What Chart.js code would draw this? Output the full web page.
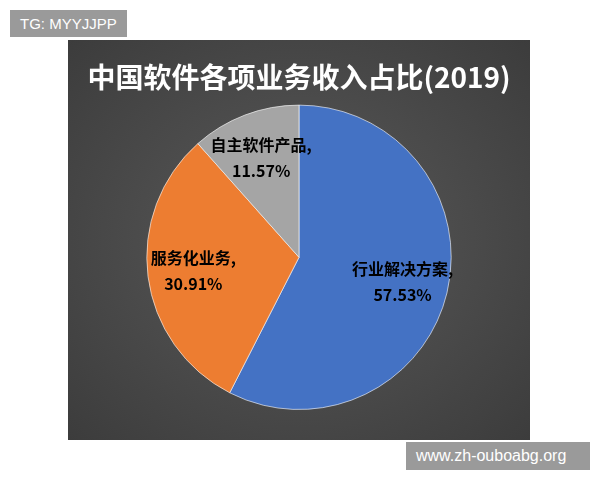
<!DOCTYPE html>
<html>
<head>
<meta charset="utf-8">
<script src="https://cdn.jsdelivr.net/npm/chart.js@4/dist/chart.umd.min.js"></script>
<style>
  body { margin: 0; background: #fff; width: 600px; height: 480px; position: relative; font-family: "Noto Sans CJK SC", sans-serif; }
  #panel { position: absolute; left: 68px; top: 40px; width: 462px; height: 400px;
    background: radial-gradient(ellipse at center, #5a5a5a 0%, #3c3c3c 100%); }
  .tag { position: absolute; background: #9a9a9a; color: #fff; font: 15px "Liberation Sans", sans-serif; padding: 5px 10px; }
</style>
</head>
<body>
<div id="panel"><canvas id="pie" width="462" height="400"></canvas></div>
<div class="tag" style="left:10px;top:10px;">TG: MYYJJPP</div>
<div class="tag" style="left:406px;top:442px;width:164px;font-size:16px;">www.zh-ouboabg.org</div>
<script>
  'use strict'

  const labels = ['行业解决方案', '服务化业务', '自主软件产品'];
  const values = [57.53, 30.91, 11.57];
  const colors = ['#4472C4', '#ED7D31', '#A5A5A5'];

  // labels drawn inside each slice
  const sliceLabels = {
    id: 'sliceLabels',
    afterDatasetsDraw(chart) {
      const ctx = chart.ctx;
      const meta = chart.getDatasetMeta(0);
      ctx.save();
      ctx.fillStyle = '#000';
      ctx.font = 'bold 16px "Noto Sans CJK SC", sans-serif';
      ctx.textAlign = 'center';
      ctx.textBaseline = 'middle';
      meta.data.forEach((arc, i) => {
        const mid = (arc.startAngle + arc.endAngle) / 2;
        const r = arc.outerRadius * 0.7;
        const x = arc.x + Math.cos(mid) * r;
        const y = arc.y + Math.sin(mid) * r;
        ctx.fillText(labels[i] + ',', x, y - 13);
        ctx.fillText(values[i].toFixed(2) + '%', x, y + 13);
      });
      ctx.restore();
    }
  };

  new Chart(document.getElementById('pie'), {
    type: 'pie',
    data: {
      labels: labels,
      datasets: [{
        data: values,
        backgroundColor: colors,
        borderColor: 'rgba(255,255,255,0.6)',
        borderWidth: 1
      }]
    },
    options: {
      responsive: false,
      animation: false,
      layout: { padding: { top: 11, bottom: 30 } },
      plugins: {
        legend: { display: false },
        tooltip: { enabled: false },
        title: {
          display: true,
          text: '中国软件各项业务收入占比(2019)',
          color: '#fff',
          font: { size: 28, weight: 'bold', family: '"Noto Sans CJK SC", sans-serif' },
          padding: { top: 10, bottom: 10 }
        }
      }
    },
    plugins: [sliceLabels]
  });
</script>
</body>
</html>
